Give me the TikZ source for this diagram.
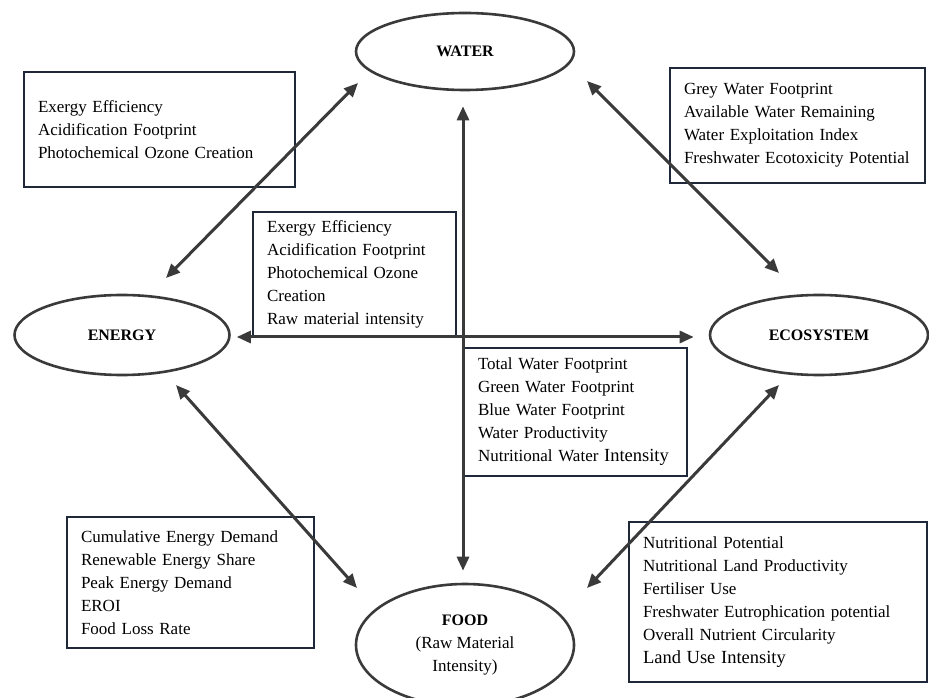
\documentclass[tikz,border=0pt]{standalone}
\usepackage{fontspec}
\setmainfont{Liberation Serif}
\usepackage{tikz}
\usetikzlibrary{calc, shapes.geometric, arrows.meta}
\definecolor{linkGrey}{HTML}{3A3A3A}
\definecolor{boxNavy}{HTML}{1E2838}

\begin{document}
\begin{tikzpicture}[
            x=1pt, y=1pt,
            every node/.style={font=\fontsize{17}{23}\selectfont},
            hub/.style={ellipse, draw=linkGrey, line width=2.6pt, inner sep=0pt, align=center, font=\fontsize{16}{23}\selectfont\bfseries},
            metric/.style={rectangle, draw=boxNavy, line width=1.6pt, align=left, inner xsep=14pt, inner ysep=0pt},
            link/.style={{Triangle[length=14pt,width=12pt]}-{Triangle[length=14pt,width=12pt]}, line width=3pt, color=linkGrey}
        ]
            \useasboundingbox (0,0) rectangle (929,697);

            % Nodes
            \node[hub, minimum width=218pt, minimum height=77pt] (water) at (465,645.5) {WATER};
            \node[hub, minimum width=215pt, minimum height=80pt] (energy) at (122,362) {ENERGY};
            \node[hub, minimum width=218pt, minimum height=80pt] (ecosystem) at (819,362) {ECOSYSTEM};
            \node[hub, minimum width=218pt, minimum height=122pt] (food) at (465,52) {FOOD\\ {\mdseries\fontsize{17}{23}\selectfont (Raw Material}\\ {\mdseries\fontsize{17}{23}\selectfont Intensity)}};

            \node[metric, text width=243pt, minimum height=115pt] (energyWater) at (159.5,567.5) {Exergy Efficiency\\ Acidification Footprint\\ Photochemical Ozone Creation};
            \node[metric, text width=227pt, minimum height=115pt] (waterEco) at (797.5,571.5) {Grey Water Footprint\\ Available Water Remaining\\ Water Exploitation Index\\ Freshwater Ecotoxicity Potential};
            \node[metric, text width=175pt, minimum height=125pt] (energyEco) at (354.5,422.5) {Exergy Efficiency\\ Acidification Footprint\\ Photochemical Ozone\\ Creation\\ Raw material intensity};
            \node[metric, text width=195pt, minimum height=128pt] (waterFood) at (575.5,285) {Total Water Footprint\\ Green Water Footprint\\ Blue Water Footprint\\ Water Productivity\\ Nutritional Water {\fontsize{18.5}{23}\selectfont Intensity}};
            \node[metric, text width=219pt, minimum height=131pt] (energyFood) at (190.5,114.5) {Cumulative Energy Demand\\ Renewable Energy Share\\ Peak Energy Demand\\ EROI\\ Food Loss Rate};
            \node[metric, text width=270pt, minimum height=160pt] (ecoFood) at (778,95) {Nutritional Potential\\ Nutritional Land Productivity\\ Fertiliser Use\\ Freshwater Eutrophication potential\\ Overall Nutrient Circularity\\ {\fontsize{18.5}{25}\selectfont Land Use Intensity}};

            % Arrows
            \draw[link] ($(energy)+(44,57)$) -- ($(water)+(-107,-31.5)$);
            \draw[link] ($(water)+(122,-29.5)$) -- ($(ecosystem)+(-40,62)$);
            \draw[link] ($(energy)+(54,-50)$) -- ($(food)+(-108,57)$);
            \draw[link] ($(ecosystem)+(-40,-50)$) -- ($(food)+(122,57)$);
            \draw[link, shorten <=15pt, shorten >=12pt] ([xshift=-2pt]water.south) -- ([xshift=-2pt]food.north);
            \draw[link, shorten <=6pt, shorten >=15pt] ([yshift=-2pt]energy.east) -- ([yshift=-2pt]ecosystem.west);
        \end{tikzpicture}
\end{document}
